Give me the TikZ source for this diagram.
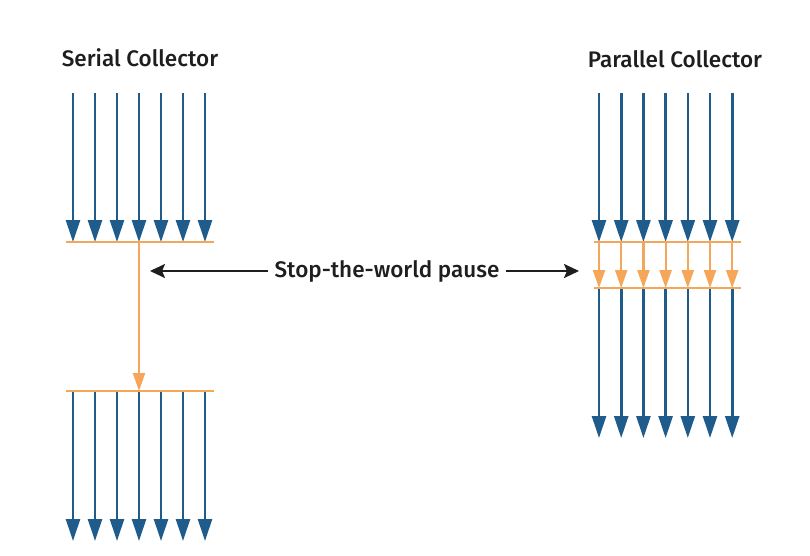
\documentclass[tikz,border=0pt]{standalone}
\usepackage{fontspec}
\setmainfont{Fira Sans}
\newfontfamily\titlefont{Fira Sans Medium}
\usetikzlibrary{arrows.meta,positioning}

\definecolor{gcblue}{HTML}{1F5C8C}
\definecolor{gcorange}{HTML}{F5A659}
\definecolor{gcblack}{HTML}{1E1E1E}

\tikzset{
  thread/.style={draw=gcblue, line width=2.6pt, -{Triangle[width=14pt,length=22pt]}},
  gcthread/.style={draw=gcorange, line width=2.2pt, -{Triangle[width=12pt,length=18pt]}},
  barrier/.style={draw=gcorange, line width=2.4pt},
  pointer/.style={draw=gcblack, line width=2.2pt, -{Stealth[width=14pt,length=15pt,inset=3pt]}},
  heading/.style={font=\titlefont\fontsize{22.5}{26}\selectfont, text=gcblack, inner sep=0pt},
}

\begin{document}
\begin{tikzpicture}[x=1pt,y=-1pt]
\useasboundingbox[fill=white] (0,0) rectangle (810,555);

% titles
\node[heading] (serial) at (140,58) {Serial Collector};
\node[heading] (parallel) at (675,59) {Parallel Collector};

% serial collector: threads, pause, threads
\coordinate (sA) at (66,242);  \coordinate (sB) at (214,242);
\coordinate (sC) at (66,391);  \coordinate (sD) at (214,391);
\foreach \i in {0,...,6} {
  \coordinate (st\i) at ({73+22*\i},93);
  \coordinate (sm\i) at ({73+22*\i},242);
  \coordinate (sn\i) at ({73+22*\i},391);
  \coordinate (sb\i) at ({73+22*\i},541);
  \draw[thread] (st\i) -- (sm\i);
  \draw[thread] (sn\i) -- (sb\i);
}
\draw[barrier] (sA) -- (sB);
\draw[barrier] (sC) -- (sD);
\draw[gcthread] (sm3) -- (sn3);

% parallel collector
\coordinate (pA) at (594,242); \coordinate (pB) at (741,242);
\coordinate (pC) at (594,288); \coordinate (pD) at (741,288);
\foreach \i in {0,...,6} {
  \coordinate (pt\i) at ({599+22.2*\i},93);
  \coordinate (pm\i) at ({599+22.2*\i},242);
  \coordinate (pn\i) at ({599+22.2*\i},288);
  \coordinate (pb\i) at ({599+22.2*\i},438);
  \draw[thread] (pt\i) -- (pm\i);
  \draw[gcthread] (pm\i) -- (pn\i);
  \draw[thread] (pn\i) -- (pb\i);
}
\draw[barrier] (pA) -- (pB);
\draw[barrier] (pC) -- (pD);

% label
\node[heading, inner xsep=6pt] (pause) at (387,271) {Stop-the-world pause};
\coordinate (pauseL) at (150,271);
\coordinate (pauseR) at (579,271);
\draw[pointer] (pause.west) -- (pauseL);
\draw[pointer] (pause.east) -- (pauseR);
\end{tikzpicture}
\end{document}
